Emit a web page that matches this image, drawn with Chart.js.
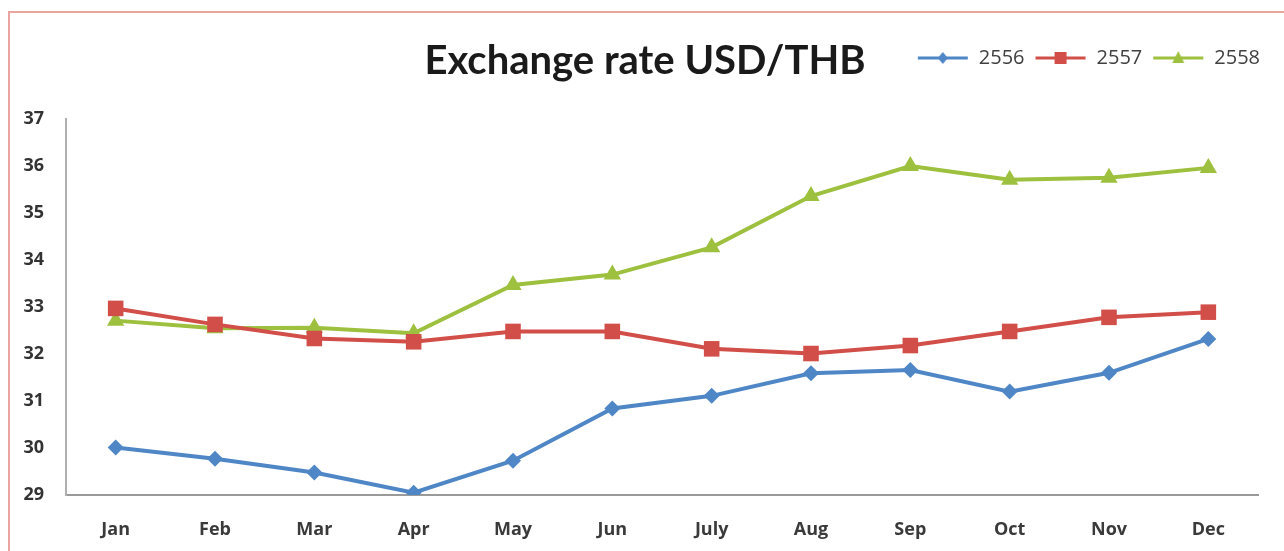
<!DOCTYPE html>
<html>
<head>
<meta charset="utf-8">
<title>Exchange rate USD/THB</title>
<script src="https://cdn.jsdelivr.net/npm/chart.js@4.4.1/dist/chart.umd.min.js"></script>
<style>
  html, body { margin: 0; padding: 0; background: #fff; overflow: hidden; }
  #wrap { position: relative; width: 1284px; height: 551px; }
  #frame {
    position: absolute; left: 8px; top: 11px; width: 1300px; height: 600px;
    border: 2px solid #e9a59e; pointer-events: none;
  }
  #title {
    position: absolute; left: 0; width: 1290px; top: 35px; text-align: center;
    font: bold 40px Lato, "Open Sans", sans-serif; color: #1a1a1a;
  }
</style>
</head>
<body>
<div id="wrap">
  <canvas id="chart" width="1284" height="551"></canvas>
  <div id="frame"></div>
  <div id="title">Exchange rate USD/THB</div>
</div>
<script>
// 数据
const months = ['Jan', 'Feb', 'Mar', 'Apr', 'May', 'Jun', 'July', 'Aug', 'Sep', 'Oct', 'Nov', 'Dec'];
const rate2556 = [30.01, 29.77, 29.48, 29.05, 29.73, 30.84, 31.11, 31.59, 31.66, 31.20, 31.60, 32.32];
const rate2557 = [32.97, 32.63, 32.33, 32.26, 32.48, 32.48, 32.11, 32.01, 32.18, 32.48, 32.78, 32.89];
const rate2558 = [32.71, 32.55, 32.56, 32.44, 33.47, 33.69, 34.27, 35.36, 36.00, 35.71, 35.75, 35.96];
const yTicks = [29, 30, 31, 32, 33, 34, 35, 36, 37];

const BLUE = '#4f86c6';
const RED = '#d24e48';
const GREEN = '#9dc03f';

// legend swatch: short line with the marker in the middle
function swatch (color, style) {
  const c = document.createElement('canvas');
  c.width = 52; c.height = 20;
  const g = c.getContext('2d');
  g.strokeStyle = color; g.lineWidth = 3;
  g.beginPath(); g.moveTo(1, 10); g.lineTo(51, 10); g.stroke();
  g.fillStyle = color;
  g.beginPath();
  if (style === 'diamond') {
    g.moveTo(26, 4); g.lineTo(31, 10); g.lineTo(26, 16); g.lineTo(21, 10);
  } else if (style === 'square') {
    g.rect(20, 4, 12, 12);
  } else {
    g.moveTo(26, 3); g.lineTo(32, 15); g.lineTo(20, 15);
  }
  g.closePath(); g.fill();
  return c;
}
const swatches = [swatch(BLUE, 'diamond'), swatch(RED, 'square'), swatch(GREEN, 'triangle')];

function series (label, data, color, pointStyle, radius) {
  return {
    label, data,
    borderColor: color, backgroundColor: color,
    borderWidth: 4, tension: 0,
    pointStyle, pointRadius: radius, pointHoverRadius: radius,
    pointBorderWidth: 0
  };
}

// legend sits on the title row, leave a gap under it
const legendGap = {
  id: 'legendGap',
  beforeInit (chart) {
    const fit = chart.legend.fit;
    chart.legend.fit = function () {
      fit.call(this);
      this.height += 41;
    };
  },
  afterLayout (chart) {
    chart.legend.left += 12;
    chart.legend.right += 12;
  }
};

new Chart(document.getElementById('chart'), {
  type: 'line',
  data: {
    labels: months,
    datasets: [
      series('2556', rate2556, BLUE, 'rectRot', 8),
      series('2557', rate2557, RED, 'rect', 11),
      series('2558', rate2558, GREEN, 'triangle', 10)
    ]
  },
  options: {
    responsive: false,
    animation: false,
    layout: { padding: { top: 38, right: 26, bottom: 11, left: 0 } },
    plugins: {
      tooltip: { enabled: false },
      legend: {
        position: 'top',
        align: 'end',
        labels: {
          usePointStyle: true,
          pointStyleWidth: 52,
          padding: 10,
          color: '#404040',
          font: { family: '"Open Sans", sans-serif', size: 20 },
          generateLabels (chart) {
            const items = Chart.defaults.plugins.legend.labels.generateLabels(chart);
            items.forEach((it, i) => { it.pointStyle = swatches[i]; });
            return items;
          }
        }
      }
    },
    scales: {
      x: {
        offset: true,
        grid: { display: false, drawTicks: false },
        border: { color: '#9a9a9a', width: 2 },
        ticks: {
          padding: 24,
          color: '#3a3a3a',
          font: { family: '"Open Sans", sans-serif', size: 18, weight: 'bold' }
        },
        afterFit (scale) { scale.height = 45; }
      },
      y: {
        min: 29,
        max: 37,
        afterBuildTicks (scale) { scale.ticks = yTicks.map(v => ({ value: v })); },
        grid: { display: false, drawTicks: false },
        border: { color: '#b0b0b0', width: 2 },
        ticks: {
          padding: 22,
          color: '#333333',
          font: { family: '"Open Sans", sans-serif', size: 18, weight: 'bold' }
        },
        afterFit (scale) { scale.width = 66; }
      }
    }
  },
  plugins: [legendGap]
});
</script>
</body>
</html>
